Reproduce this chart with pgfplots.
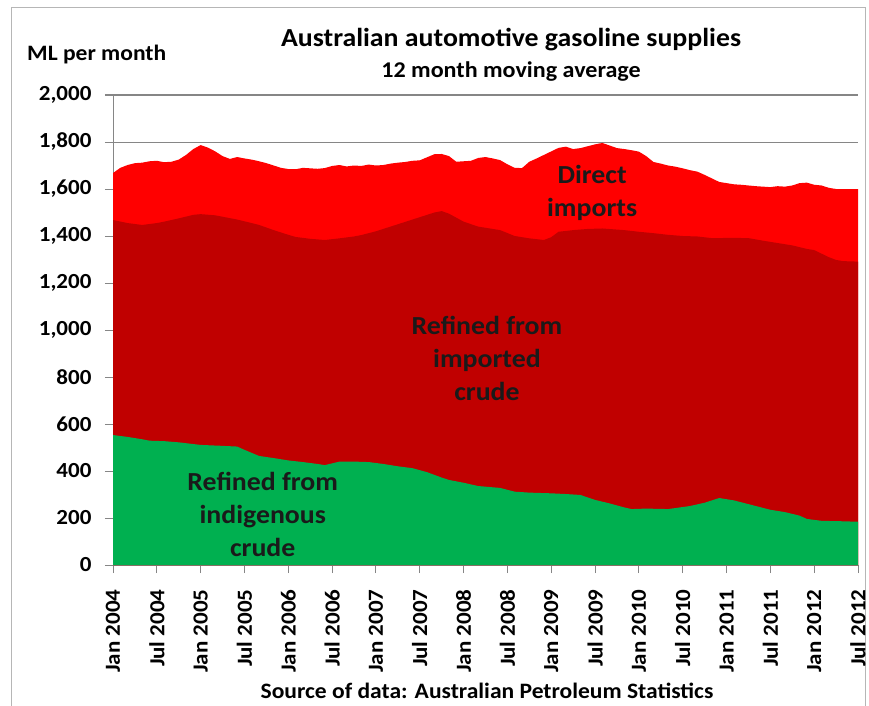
\documentclass[border=0pt]{standalone}
\usepackage{pgfplots}
\pgfplotsset{compat=1.18}
\usepackage{fontspec}
\setmainfont{Carlito}[FakeStretch=1.07]
\definecolor{lred}{HTML}{FF0000}
\definecolor{dred}{HTML}{C00000}
\definecolor{grn}{HTML}{00B050}
\definecolor{gridc}{HTML}{868686}
\definecolor{labc}{HTML}{1A1A1A}
\begin{document}
\begin{tikzpicture}[x=1pt,y=1pt]
\useasboundingbox (0,0) rectangle (869,705);
\draw[gridc!60, line width=1pt] (11.5,-5) -- (11.5,697.5) -- (865.5,697.5) -- (865.5,-5);
\begin{axis}[at={(113pt,140pt)}, anchor=south west, scale only axis,
  width=745pt, height=470pt,
  xmin=0, xmax=102, ymin=0, ymax=2000,
  axis lines*=left,
  axis line style={gridc, line width=1pt},
  ymajorgrids, grid style={gridc, line width=1pt},
  tick style={gridc, line width=1pt},
  major tick length=8pt, tick align=outside,
  ytick={0,200,...,2000},
  xtick={0,6,...,102},
  xticklabels={Jan 2004,Jul 2004,Jan 2005,Jul 2005,Jan 2006,Jul 2006,Jan 2007,Jul 2007,Jan 2008,Jul 2008,Jan 2009,Jul 2009,Jan 2010,Jul 2010,Jan 2011,Jul 2011,Jan 2012,Jul 2012},
  tick label style={font=\fontsize{21.5}{22}\selectfont\bfseries, black},
  xticklabel style={rotate=90, anchor=east, xshift=-13pt},
  yticklabel style={xshift=-10pt},
  /pgf/number format/.cd, 1000 sep={,}, assume math mode=true,
]
\addplot[fill=lred, draw=none] coordinates {
(0,1668) (1,1690) (2,1702) (3,1710) (4,1712) (5,1718) (6,1720) (7,1714) (8,1716) (9,1725) (10,1745) (11,1770) (12,1787) (13,1776) (14,1760) (15,1740) (16,1728) (17,1736) (18,1730) (19,1725) (20,1718) (21,1710) (22,1700) (23,1690) (24,1685) (25,1684) (26,1690) (27,1688) (28,1686) (29,1689) (30,1698) (31,1702) (32,1696) (33,1700) (34,1698) (35,1704) (36,1700) (37,1702) (38,1708) (39,1712) (40,1715) (41,1720) (42,1722) (43,1735) (44,1748) (45,1749) (46,1740) (47,1716) (48,1718) (49,1720) (50,1732) (51,1736) (52,1730) (53,1723) (54,1705) (55,1690) (56,1689) (57,1716) (58,1730) (59,1745) (60,1760) (61,1775) (62,1780) (63,1770) (64,1774) (65,1782) (66,1790) (67,1796) (68,1785) (69,1774) (70,1770) (71,1765) (72,1759) (73,1740) (74,1715) (75,1708) (76,1700) (77,1695) (78,1688) (79,1680) (80,1674) (81,1660) (82,1645) (83,1630) (84,1625) (85,1620) (86,1618) (87,1615) (88,1612) (89,1610) (90,1608) (91,1612) (92,1610) (93,1615) (94,1625) (95,1627) (96,1618) (97,1615) (98,1605) (99,1600) (100,1600) (101,1600) (102,1600)
} \closedcycle;
\addplot[fill=dred, draw=none] coordinates {
(0,1468)(2,1455)(4,1447)(6,1455)(7,1461)(9,1475)(11,1490)(12,1493)(14,1488)(15,1482)(17,1470)(19,1455)(20,1447)(22,1425)(24,1405)(25,1396)(27,1388)(29,1383)(31,1390)(33,1398)(34,1404)(36,1420)(38,1440)(40,1460)(42,1480)(44,1500)(45,1506)(46,1495)(48,1461)(50,1440)(52,1430)(53,1425)(55,1400)(57,1390)(59,1383)(60,1395)(61,1418)(63,1425)(65,1430)(67,1432)(70,1425)(72,1418)(74,1412)(76,1405)(78,1400)(80,1398)(82,1391)(85,1392)(87,1391)(89,1380)(91,1370)(93,1360)(95,1345)(96,1340)(97,1325)(98,1310)(99,1298)(100,1293)(102,1291)
} \closedcycle;
\addplot[fill=grn, draw=none] coordinates {
(0,553)(2,545)(4,535)(5,529)(7,527)(9,522)(12,511)(15,507)(17,504)(18,490)(20,464)(22,455)(24,445)(26,438)(28,430)(29,425)(31,440)(33,440)(35,438)(37,430)(39,420)(41,412)(43,395)(45,372)(46,362)(48,350)(50,336)(53,328)(55,312)(57,308)(60,305)(62,302)(64,298)(66,277)(68,262)(70,245)(71,238)(73,240)(76,238)(79,251)(81,265)(83,285)(85,275)(88,251)(90,235)(92,225)(94,210)(95,196)(97,188)(100,186)(102,184)
} \closedcycle;
\node[font=\fontsize{26}{33}\selectfont\bfseries, align=center, text=labc] at (axis cs:65.6,1583) {Direct\\imports};
\node[font=\fontsize{26}{33}\selectfont\bfseries, align=center, text=labc] at (axis cs:51.2,881) {Refined from\\imported\\crude};
\node[font=\fontsize{26}{33}\selectfont\bfseries, align=center, text=labc] at (axis cs:20.5,217) {Refined from\\indigenous\\crude};
\end{axis}
\node[anchor=base, inner sep=0pt, font=\fontsize{26}{26}\selectfont\bfseries] at (511,658) {Australian automotive gasoline supplies};
\node[anchor=base, inner sep=0pt, font=\fontsize{22.5}{22.5}\selectfont\bfseries] at (511,627) {12 month moving average};
\node[anchor=base west, inner sep=0pt, font=\fontsize{22}{22}\selectfont\bfseries] at (27,644) {ML per month};
\node[anchor=base, inner sep=0pt, font=\fontsize{22}{22}\selectfont\bfseries] at (487,7) {Source of data: Australian Petroleum Statistics};
\end{tikzpicture}
\end{document}
